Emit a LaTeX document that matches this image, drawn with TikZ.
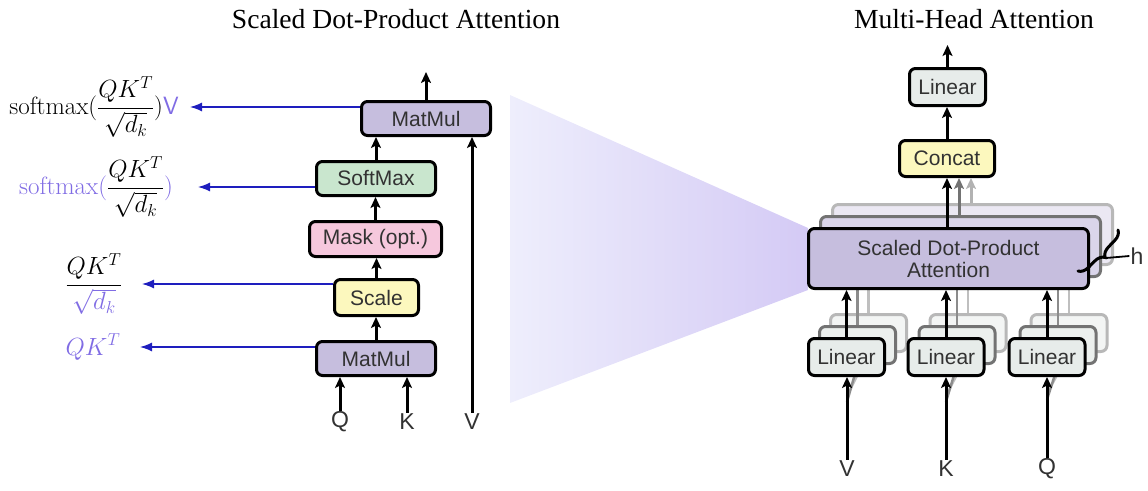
\documentclass[tikz,border=0pt]{standalone}
\usepackage{fontspec}
\usepackage{amsmath}
\usetikzlibrary{arrows.meta,decorations.pathreplacing,calc}
\newfontfamily\titlefont{Liberation Serif}
\newfontfamily\boxfont{Liberation Sans}
\definecolor{mmfill}{RGB}{198,190,222}
\definecolor{smfill}{RGB}{201,230,206}
\definecolor{maskfill}{RGB}{246,200,221}
\definecolor{scalefill}{RGB}{252,248,190}
\definecolor{linfill}{RGB}{231,236,234}
\definecolor{txt}{RGB}{50,50,50}
\definecolor{pur}{RGB}{128,108,228}
\definecolor{blu}{RGB}{30,30,190}
\definecolor{triL}{RGB}{238,238,252}
\definecolor{triR}{RGB}{212,202,245}
\begin{document}
\begin{tikzpicture}[x=1pt,y=-1pt,
  box/.style={draw, line width=3pt, rounded corners=6pt, inner sep=0pt, align=center,
    font=\boxfont\fontsize{21}{24}\selectfont, text=txt},
  ghostA/.style={box, draw=black!55},
  ghostB/.style={box, draw=black!28},
  arr/.style={-{Stealth[length=11pt,width=10pt,inset=2.5pt]}, line width=3pt},
  barr/.style={-{Latex[length=12pt,width=9pt]}, line width=1.3pt, draw=blu, fill=blu},
  lbl/.style={inner sep=1pt, font=\boxfont\fontsize{23}{26}\selectfont, text=txt},
  ttl/.style={inner sep=0pt, font=\titlefont\fontsize{27.6}{30}\selectfont},
  fml/.style={inner sep=0pt, font=\fontsize{25}{30}\selectfont}
]
\useasboundingbox (0,0) rectangle (1148,490);

% titles
\node[ttl] (t1) at (396,19) {Scaled Dot-Product Attention};
\node[ttl] (t2) at (974,19) {Multi-Head Attention};

% zoom triangle
\shade[left color=triL, right color=triR] (510,95) -- (808,228) -- (808,290) -- (510,403) -- cycle;

% ---------- left: scaled dot-product attention ----------
\node[box, fill=mmfill, minimum width=129pt, minimum height=34pt] (mmB) at (426,118.5) {MatMul};
\node[box, fill=smfill, minimum width=119pt, minimum height=34pt] (sm) at (376,178.5) {SoftMax};
\node[box, fill=maskfill, minimum width=132pt, minimum height=35pt] (mask) at (375.5,239) {Mask (opt.)};
\node[box, fill=scalefill, minimum width=84pt, minimum height=36pt] (scale) at (376.5,297.5) {Scale};
\node[box, fill=mmfill, minimum width=119pt, minimum height=34pt] (mmA) at (376,358.5) {MatMul};

\draw[arr] (mmA.north) -- (mmA.north |- scale.south);
\draw[arr] (scale.north) -- (scale.north |- mask.south);
\draw[arr] (mask.north) -- (mask.north |- sm.south);
\draw[arr] (sm.north) -- (sm.north |- mmB.south);
\coordinate (outL) at (426,72);
\draw[arr] (mmB.north) -- (outL);

\node[lbl] (qL) at (340,422) {Q};
\node[lbl] (kL) at (407,422) {K};
\node[lbl] (vL) at (472,422) {V};
\draw[arr] (qL.north) -- (qL.north |- mmA.south);
\draw[arr] (kL.north) -- (kL.north |- mmA.south);
\draw[arr] (vL.north) -- (vL.north |- mmB.south);

% blue arrows and formulas
\coordinate (b1) at (190,107);
\coordinate (b2) at (198,187);
\coordinate (b3) at (142,284);
\coordinate (b4) at (140,347);
\draw[barr] (mmB.west |- b1) -- (b1);
\draw[barr] (sm.west |- b2) -- (b2);
\draw[barr] (scale.west |- b3) -- (b3);
\draw[barr] (mmA.west |- b4) -- (b4);

\node[fml] (f1) at (94,107) {$\mathrm{softmax}(\dfrac{QK^T}{\sqrt{d_k}})\textcolor{pur}{\textsf{V}}$};
\node[fml] (f2) at (96,187) {$\textcolor{pur}{\mathrm{softmax}(}\dfrac{QK^T}{\sqrt{d_k}}\textcolor{pur}{)}$};
\node[fml] (f3) at (94,284) {$\dfrac{QK^T}{\textcolor{pur}{\sqrt{d_k}}}$};
\node[fml] (f4) at (93,347) {$\textcolor{pur}{QK^T}$};

% ---------- right: multi-head attention ----------
% back SDPA copies
\node[ghostB, fill=mmfill!35!white, minimum width=280pt, minimum height=60pt] (s2) at (972.5,234.5) {};
\node[ghostA, fill=mmfill!65!white, minimum width=280pt, minimum height=60pt] (s1) at (960.5,246.5) {};

% back linear copies
\foreach \cx/\nm in {846.5/V,946/K,1047/Q}{
  \node[ghostB, fill=linfill!50!white, minimum width=76pt, minimum height=37pt] (lb2\nm) at (\cx+22,333) {};
  \node[ghostA, fill=linfill!80!white, minimum width=76pt, minimum height=37pt] (lb1\nm) at (\cx+11,345) {};
}
% ghost connectors linear -> SDPA
\foreach \nm in {V,K,Q}{
  \draw[line width=2.4pt, black!45] (lb1\nm.north) -- (lb1\nm.north |- s1.south);
  \draw[line width=2.4pt, black!25] (lb2\nm.north) -- (lb2\nm.north |- s2.south);
}

% front SDPA
\node[box, fill=mmfill, minimum width=280pt, minimum height=60pt] (s0) at (948.5,258.5) {Scaled Dot-Product\\[-2pt]Attention};

% inputs labels
\node[lbl] (vR) at (847,469) {V};
\node[lbl] (kR) at (946,469) {K};
\node[lbl] (qR) at (1047,469) {Q};

% ghost input lines
\foreach \nm/\lab in {V/vR,K/kR,Q/qR}{
  \draw[line width=2.4pt, black!25] ($(\lab.north)+(0,-64)$) -- (lb2\nm.south);
  \draw[line width=2.4pt, black!45] ($(\lab.north)+(0,-58)$) -- (lb1\nm.south);
}

% front linear boxes
\node[box, fill=linfill, minimum width=76pt, minimum height=37pt] (linV) at (846.5,357) {Linear};
\node[box, fill=linfill, minimum width=76pt, minimum height=37pt] (linK) at (946,357) {Linear};
\node[box, fill=linfill, minimum width=76pt, minimum height=37pt] (linQ) at (1047,357) {Linear};

\draw[arr] (vR.north) -- (vR.north |- linV.south);
\draw[arr] (kR.north) -- (kR.north |- linK.south);
\draw[arr] (qR.north) -- (qR.north |- linQ.south);
\draw[arr] (linV.north) -- (linV.north |- s0.south);
\draw[arr] (linK.north) -- (linK.north |- s0.south);
\draw[arr] (linQ.north) -- (linQ.north |- s0.south);

% concat and output linear
\node[box, fill=scalefill, minimum width=95pt, minimum height=36pt] (concat) at (947,158.5) {Concat};
\node[box, fill=linfill, minimum width=76pt, minimum height=37pt] (lin3) at (947.5,87) {Linear};

\draw[arr, black!30] (s2.north -| 971,0) -- (concat.south -| 971,0);
\draw[arr, black!55] (s1.north -| 959,0) -- (concat.south -| 959,0);
\draw[arr] (concat.south |- s0.north) -- (concat.south);
\draw[arr] (concat.north) -- (concat.north |- lin3.south);
\coordinate (outR) at (947.5,45);
\draw[arr] (lin3.north) -- (outR);

% h brace
\draw[line width=3pt, line cap=round, decorate, decoration={brace, mirror, amplitude=10pt}] (1078,271) -- (1118,230);
\coordinate (bt) at (1106,258);
\node[lbl] (h) at (1137,256) {h};
\draw[line width=1.8pt] (bt) -- (h.west);
\end{tikzpicture}
\end{document}
